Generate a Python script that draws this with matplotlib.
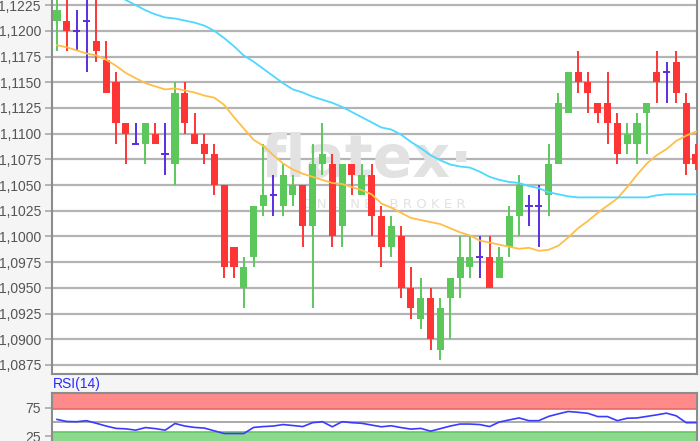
import numpy as np
import matplotlib
matplotlib.use('Agg')
import matplotlib.pyplot as plt
from matplotlib.ticker import FuncFormatter

# candles: open, high, low, close
opens = [1.1210, 1.1210, 1.1200, 1.1210, 1.1190, 1.1172, 1.1150, 1.1110, 1.1090, 1.1090,
         1.1100, 1.1080, 1.1070, 1.1140, 1.1100, 1.1090, 1.1080, 1.1050, 1.0990, 1.0950,
         1.0980, 1.1030, 1.1040, 1.1030, 1.1040, 1.1050, 1.1010, 1.1070, 1.1070, 1.1010,
         1.1070, 1.1040, 1.1060, 1.1020, 1.0990, 1.1000, 1.0950, 1.0920, 1.0940, 1.0890,
         1.0940, 1.0960, 1.0970, 1.0980, 1.0980, 1.0960, 1.0990, 1.1020, 1.1030, 1.1030,
         1.1040, 1.1070, 1.1120, 1.1160, 1.1150, 1.1130, 1.1130, 1.1110, 1.1090, 1.1090,
         1.1120, 1.1160, 1.1160, 1.1170, 1.1130, 1.1080]
highs = [1.1240, 1.1240, 1.1220, 1.1240, 1.1240, 1.1190, 1.1160, 1.1110, 1.1110, 1.1110,
         1.1110, 1.1110, 1.1150, 1.1150, 1.1120, 1.1100, 1.1090, 1.1050, 1.0990, 1.0980,
         1.1030, 1.1090, 1.1060, 1.1070, 1.1060, 1.1050, 1.1090, 1.1110, 1.1080, 1.1070,
         1.1070, 1.1070, 1.1070, 1.1030, 1.1020, 1.1010, 1.0970, 1.0960, 1.0950, 1.0940,
         1.0960, 1.1000, 1.1000, 1.1000, 1.1000, 1.0990, 1.1030, 1.1060, 1.1040, 1.1050,
         1.1090, 1.1140, 1.1160, 1.1180, 1.1160, 1.1130, 1.1160, 1.1120, 1.1110, 1.1120,
         1.1130, 1.1180, 1.1170, 1.1180, 1.1140, 1.1090]
lows = [1.1180, 1.1180, 1.1180, 1.1160, 1.1170, 1.1140, 1.1090, 1.1070, 1.1090, 1.1070,
        1.1090, 1.1060, 1.1050, 1.1100, 1.1090, 1.1070, 1.1040, 1.0960, 1.0960, 1.0930,
        1.0970, 1.1020, 1.1020, 1.1020, 1.1030, 1.0990, 1.0930, 1.1060, 1.0990, 1.0990,
        1.1040, 1.1040, 1.1000, 1.0970, 1.0980, 1.0940, 1.0920, 1.0910, 1.0890, 1.0880,
        1.0900, 1.0940, 1.0960, 1.0960, 1.0950, 1.0960, 1.0980, 1.1000, 1.1010, 1.0990,
        1.1020, 1.1070, 1.1120, 1.1140, 1.1120, 1.1110, 1.1090, 1.1070, 1.1080, 1.1070,
        1.1080, 1.1130, 1.1130, 1.1130, 1.1060, 1.1065]
closes = [1.1220, 1.1200, 1.1200, 1.1210, 1.1180, 1.1140, 1.1110, 1.1100, 1.1090, 1.1110,
          1.1090, 1.1080, 1.1140, 1.1110, 1.1090, 1.1080, 1.1050, 1.0970, 1.0970, 1.0970,
          1.1030, 1.1040, 1.1040, 1.1060, 1.1050, 1.1010, 1.1070, 1.1080, 1.1000, 1.1070,
          1.1060, 1.1060, 1.1020, 1.0990, 1.1010, 1.0950, 1.0930, 1.0940, 1.0900, 1.0930,
          1.0960, 1.0980, 1.0980, 1.0980, 1.0950, 1.0980, 1.1020, 1.1050, 1.1030, 1.1030,
          1.1070, 1.1130, 1.1160, 1.1150, 1.1140, 1.1120, 1.1110, 1.1080, 1.1100, 1.1110,
          1.1130, 1.1150, 1.1160, 1.1140, 1.1070, 1.1070]

# short moving average (orange)
ma_short = [1.1186, 1.1184, 1.1181, 1.1178, 1.1176, 1.1172, 1.1166, 1.1159, 1.1154, 1.1149,
            1.1146, 1.1143, 1.1144, 1.1142, 1.1140, 1.1137, 1.1135, 1.1128, 1.1116, 1.1105,
            1.1094, 1.1088, 1.1079, 1.1071, 1.1065, 1.1061, 1.1058, 1.1055, 1.1052, 1.1051,
            1.1048, 1.1045, 1.1041, 1.1032, 1.1028, 1.1023, 1.1018, 1.1016, 1.1014, 1.1012,
            1.1008, 1.1004, 1.1001, 1.0996, 1.0994, 1.0992, 1.0990, 1.0988, 1.0989, 1.0986,
            1.0987, 1.0991, 1.0999, 1.1008, 1.1015, 1.1023, 1.1030, 1.1037, 1.1048, 1.1060,
            1.1071, 1.1079, 1.1085, 1.1093, 1.1098, 1.1102]

# long moving average (cyan), starts at candle 6
ma_long_start = 6
ma_long = [1.1235, 1.1230, 1.1225, 1.1220, 1.1216, 1.1213, 1.1212, 1.1210, 1.1208, 1.1205,
           1.1200, 1.1193, 1.1185, 1.1176, 1.1170, 1.1163, 1.1156, 1.1149, 1.1143, 1.1140,
           1.1136, 1.1133, 1.1130, 1.1126, 1.1121, 1.1116, 1.1111, 1.1106, 1.1104, 1.1099,
           1.1092, 1.1086, 1.1079, 1.1074, 1.1070, 1.1068, 1.1067, 1.1063, 1.1058, 1.1055,
           1.1053, 1.1052, 1.1049, 1.1047, 1.1043, 1.1041, 1.1039, 1.1038, 1.1038, 1.1038,
           1.1038, 1.1038, 1.1038, 1.1038, 1.1038, 1.1040, 1.1041, 1.1041, 1.1041, 1.1041]

rsi = [54.5, 50.9, 50.5, 52.3, 47.7, 42.9, 38.8, 38.0, 35.7, 40.2,
       38.4, 35.7, 47.3, 42.9, 40.5, 39.3, 34.5, 29.8, 29.8, 29.8,
       40.5, 42.0, 42.9, 45.5, 43.8, 42.0, 48.8, 50.5, 41.6, 50.5,
       48.8, 47.7, 44.6, 41.6, 43.4, 40.2, 37.5, 38.8, 33.9, 38.4,
       42.9, 46.4, 46.4, 45.5, 42.0, 50.0, 53.6, 57.1, 52.3, 52.3,
       59.8, 64.3, 68.4, 67.0, 65.2, 59.5, 59.5, 52.3, 56.6, 57.1,
       59.8, 62.5, 65.5, 60.7, 48.8, 48.8]

price_ticks = [1.0875, 1.0900, 1.0925, 1.0950, 1.0975, 1.1000, 1.1025,
               1.1050, 1.1075, 1.1100, 1.1125, 1.1150, 1.1175, 1.1200, 1.1225]

GREEN = '#5cc85c'
RED = '#ff3535'
PURPLE = '#5a2ee0'
GRID = '#b4b4b4'
SPINE = '#8c8c8c'
LABEL = '#555555'

fig = plt.figure(figsize=(7, 4.41), dpi=100)
fig.patch.set_facecolor('#f5f5f5')

ax = fig.add_axes([52/700, 67/441, 645/700, 374/441])
ax.set_facecolor('white')

x = np.arange(len(opens))
o = np.array(opens); h = np.array(highs); l = np.array(lows); c = np.array(closes)
colors = [GREEN if cc > oo else (RED if cc < oo else PURPLE) for oo, cc in zip(o, c)]

ax.vlines(x, l, h, colors=colors, linewidth=1.4, zorder=3)
body = np.where(np.abs(c - o) < 1e-9, 0, c - o)
ax.bar(x, body, bottom=o, width=0.72, color=colors, linewidth=0, zorder=4)
doji = np.abs(c - o) < 1e-9
ax.hlines(c[doji], x[doji] - 0.38, x[doji] + 0.38, colors=PURPLE, linewidth=1.4, zorder=4)

ax.plot(x, ma_short, color='#ffbf47', linewidth=1.3, zorder=5)
ax.plot(x[ma_long_start:], ma_long, color='#4dd8ff', linewidth=1.3, zorder=5)

ax.text(0.488, 0.57, 'flatex·', transform=ax.transAxes, fontsize=42, fontweight='bold',
        color='#e2e2e2', ha='center', va='center', zorder=1)
ax.text(0.515, 0.452, 'O N L I N E    B R O K E R', transform=ax.transAxes, fontsize=9.5,
        color='#e2e2e2', ha='center', va='center', zorder=1)

ax.set_xlim(-0.51, 65.1)
ax.set_ylim(1.08662, 1.1230)
ax.set_yticks(price_ticks)
ax.yaxis.set_major_formatter(FuncFormatter(lambda v, p: f'{v:.4f}'.replace('.', ',')))
ax.yaxis.grid(True, color=GRID, linewidth=1.6, zorder=0)
ax.set_axisbelow(True)
ax.tick_params(axis='y', length=5, width=1.4, color=GRID, labelsize=10, labelcolor=LABEL, pad=3)
ax.tick_params(axis='x', bottom=False, labelbottom=False)
ax.spines['top'].set_visible(False)
for s in ['left', 'bottom', 'right']:
    ax.spines[s].set_color(SPINE)
    ax.spines[s].set_linewidth(1.5)
for lab in ax.get_yticklabels():
    lab.set_fontfamily('Liberation Sans')

# RSI panel
ax2 = fig.add_axes([52/700, 0, 645/700, 48/441])
ax2.set_facecolor('white')
ax2.set_xlim(-0.51, 65.1)
ax2.set_ylim(16.7, 100.8)
ax2.axhspan(72.3, 101, facecolor='#ff8a8a', edgecolor='#e86a6a', linewidth=1.2, zorder=1)
ax2.axhspan(0, 33, facecolor='#8bd98b', edgecolor='#66c566', linewidth=1.2, zorder=1)
ax2.axhline(50, color='#aaaaaa', linewidth=1.4, zorder=2)
ax2.plot(x, rsi, color='#3b3bff', linewidth=1.2, zorder=3)
ax2.set_yticks([25, 75])
ax2.tick_params(axis='y', length=5, width=1.4, color=GRID, labelsize=10, labelcolor=LABEL, pad=3)
ax2.tick_params(axis='x', bottom=False, labelbottom=False)
for s in ['left', 'top', 'right']:
    ax2.spines[s].set_color(SPINE)
    ax2.spines[s].set_linewidth(1.5)
ax2.spines['bottom'].set_visible(False)
for lab in ax2.get_yticklabels():
    lab.set_fontfamily('Liberation Sans')

fig.text(53/700, 1 - 384/441, 'RSI(14)', color='#2a2aff', fontsize=10,
         fontfamily='Liberation Sans', ha='left', va='center')

fig.savefig('out.png', dpi=100, facecolor=fig.get_facecolor())
